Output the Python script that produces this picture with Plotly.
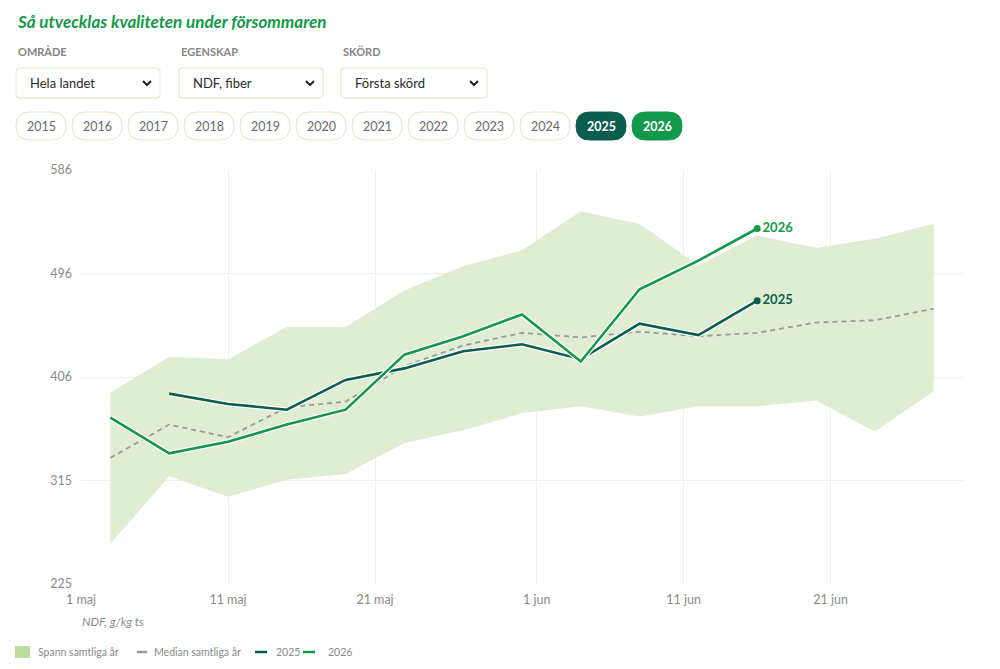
import plotly.graph_objects as go

# Data
band_dates = ["2026-05-03", "2026-05-07", "2026-05-11", "2026-05-15", "2026-05-19",
              "2026-05-23", "2026-05-27", "2026-05-31", "2026-06-04", "2026-06-08",
              "2026-06-12", "2026-06-16", "2026-06-20", "2026-06-24", "2026-06-28"]
band_max = [392, 423, 421, 449, 449, 481, 502, 516, 550, 539, 503, 529, 518, 526, 539]
band_min = [260, 319, 301, 316, 321, 348, 359, 374, 380, 371, 380, 380, 385, 358, 393]
median = [335, 364, 353, 379, 384, 415, 433, 444, 440, 445, 441, 444, 453, 455, 465]

dates_2025 = band_dates[1:12]
values_2025 = [391, 382, 377, 403, 413, 428, 434, 421, 452, 442, 472]
dates_2026 = band_dates[0:12]
values_2026 = [370, 339, 349, 364, 377, 425, 441, 460, 419, 482, 507, 535]

y_ticks = [225, 315.25, 405.5, 495.75, 586]
y_tick_labels = ["225", "315", "406", "496", "586"]
x_ticks = ["2026-05-01", "2026-05-11", "2026-05-21", "2026-06-01", "2026-06-11", "2026-06-21"]
x_tick_labels = ["1 maj", "11 maj", "21 maj", "1 jun", "11 jun", "21 jun"]

years = [str(y) for y in range(2015, 2027)]
dropdown_labels = ["OMRÅDE", "EGENSKAP", "SKÖRD"]
dropdown_values = ["Hela landet", "NDF, fiber", "Första skörd"]
legend_labels = ["Spann samtliga år", "Median samtliga år", "2025", "2026"]

C_2025 = "#0b5e4e"
C_2026 = "#12984a"
C_BAND = "#dfedd2"
C_MED = "#9a9a9a"
C_GRID = "#eef1e3"
C_TXT = "#8a8a8a"
FONT = "Lato"

# page body has an 8px margin, so the figure sits at (8, 8)
OFF = 8
W, H = 1000 - 2 * OFF, 669 - 2 * OFF


def px(x):
    return (x - OFF) / W


def py(y):
    return 1 - (y - OFF) / H


def rounded(x0, y0, x1, y1, r):
    # rounded rectangle path in paper coords from pixel values
    rx, ry = r / W, r / H
    a, b, c, d = px(x0), py(y1), px(x1), py(y0)
    return (f"M{a+rx},{b} L{c-rx},{b} Q{c},{b} {c},{b+ry} L{c},{d-ry} Q{c},{d} {c-rx},{d} "
            f"L{a+rx},{d} Q{a},{d} {a},{d-ry} L{a},{b+ry} Q{a},{b} {a+rx},{b} Z")


fig = go.Figure()

# band
fig.add_trace(go.Scatter(
    x=band_dates + band_dates[::-1],
    y=band_max + band_min[::-1],
    fill="toself", fillcolor=C_BAND, mode="lines",
    line=dict(width=0), hoverinfo="skip", showlegend=False
))

fig.add_trace(go.Scatter(
    x=band_dates, y=median, mode="lines",
    line=dict(color=C_MED, width=1.8, dash="5px,4px"), showlegend=False
))

for d, v, c in [(dates_2025, values_2025, C_2025), (dates_2026, values_2026, C_2026)]:
    fig.add_trace(go.Scatter(x=d, y=v, mode="lines", line=dict(color="white", width=5),
                             hoverinfo="skip", showlegend=False))
    fig.add_trace(go.Scatter(x=d, y=v, mode="lines", line=dict(color=c, width=2.6),
                             showlegend=False))

# end markers + labels
for d, v, c, name in [(dates_2025, values_2025, C_2025, "2025"), (dates_2026, values_2026, C_2026, "2026")]:
    fig.add_trace(go.Scatter(
        x=[d[-1]], y=[v[-1]], mode="markers+text",
        marker=dict(color=c, size=7), text=[f"<b>{name}</b>"],
        textposition="middle right", textfont=dict(color=c, size=13, family=FONT),
        showlegend=False
    ))

shapes = []
annotations = []

# title
annotations.append(dict(
    x=px(15), y=py(22), xref="paper", yref="paper", xanchor="left", yanchor="middle",
    text="<b><i>Så utvecklas kvaliteten under försommaren</i></b>",
    showarrow=False, font=dict(family=FONT, size=17, color=C_2026)
))

# dropdowns
box_x = [16, 179, 341]
box_w = [144, 144, 146]
for i in range(3):
    x0 = box_x[i]
    annotations.append(dict(
        x=px(x0), y=py(51), xref="paper", yref="paper", xanchor="left", yanchor="middle",
        text=f"<b>{dropdown_labels[i]}</b>", showarrow=False,
        font=dict(family=FONT, size=11, color="#858585")
    ))
    shapes.append(dict(type="path", path=rounded(x0, 68, x0 + box_w[i], 98, 3),
                       xref="paper", yref="paper", line=dict(color="#dde4c6", width=1),
                       fillcolor="white"))
    annotations.append(dict(
        x=px(x0 + 12), y=py(83), xref="paper", yref="paper", xanchor="left", yanchor="middle",
        text=dropdown_values[i], showarrow=False,
        font=dict(family=FONT, size=13, color="#2b2b2b")
    ))
    cx = x0 + box_w[i] - 13
    shapes.append(dict(type="path",
                       path=f"M{px(cx-4)},{py(81)} L{px(cx)},{py(85)} L{px(cx+4)},{py(81)}",
                       xref="paper", yref="paper", line=dict(color="#222", width=2)))

# year pills
for i, yr in enumerate(years):
    x0 = 16 + i * 56.0
    x1 = x0 + 50
    if yr == "2025":
        fill, border, tc, txt = C_2025, C_2025, "white", f"<b>{yr}</b>"
    elif yr == "2026":
        fill, border, tc, txt = C_2026, C_2026, "white", f"<b>{yr}</b>"
    else:
        fill, border, tc, txt = "white", "#dfe3c6", "#6a6a6a", yr
    shapes.append(dict(type="path", path=rounded(x0, 112, x1, 140, 14),
                       xref="paper", yref="paper", line=dict(color=border, width=1),
                       fillcolor=fill))
    annotations.append(dict(
        x=px((x0 + x1) / 2), y=py(126), xref="paper", yref="paper",
        xanchor="center", yanchor="middle", text=txt, showarrow=False,
        font=dict(family=FONT, size=12.5, color=tc)
    ))

# axis unit note
annotations.append(dict(
    x=px(80), y=py(621), xref="paper", yref="paper", xanchor="left", yanchor="middle",
    text="<i>NDF, g/kg ts</i>", showarrow=False, font=dict(family=FONT, size=12, color=C_TXT)
))

# legend
shapes.append(dict(type="rect", x0=px(15), x1=px(30), y0=py(646), y1=py(658),
                   xref="paper", yref="paper", line=dict(width=0), fillcolor="#bddc9f"))
leg_lines = [(137, 147, C_MED), (255, 267, C_2025), (303, 315, C_2026)]
for x0, x1, c in leg_lines:
    shapes.append(dict(type="line", x0=px(x0), x1=px(x1), y0=py(652), y1=py(652),
                       xref="paper", yref="paper", line=dict(color=c, width=2.5)))
leg_text_x = [36, 152, 274, 326]
for lbl, lx in zip(legend_labels, leg_text_x):
    annotations.append(dict(
        x=px(lx), y=py(652), xref="paper", yref="paper", xanchor="left", yanchor="middle",
        text=lbl, showarrow=False, font=dict(family=FONT, size=10.5, color=C_TXT)
    ))

fig.update_layout(
    template="none",
    width=W, height=H,
    margin=dict(l=0, r=0, t=0, b=0, pad=0, autoexpand=False),
    paper_bgcolor="white", plot_bgcolor="white",
    font=dict(family=FONT, color=C_TXT),
    shapes=shapes, annotations=annotations,
    showlegend=False,
    xaxis=dict(
        domain=[px(81), px(963)], type="date", automargin=False,
        range=["2026-05-01", "2026-06-30"],
        tickvals=x_ticks, ticktext=x_tick_labels,
        showgrid=True, gridcolor=C_GRID, gridwidth=1,
        zeroline=False, showline=False, ticks="", ticklabelstandoff=6,
        tickfont=dict(family=FONT, size=12.5, color=C_TXT),
    ),
    yaxis=dict(
        domain=[py(584), py(170)], automargin=False,
        range=[225, 586],
        tickvals=y_ticks, ticktext=y_tick_labels,
        showgrid=True, gridcolor=C_GRID, gridwidth=1,
        zeroline=False, showline=False, ticks="", ticklabelstandoff=8,
        tickfont=dict(family=FONT, size=12.5, color=C_TXT),
    ),
)

fig.write_html("out.html")
